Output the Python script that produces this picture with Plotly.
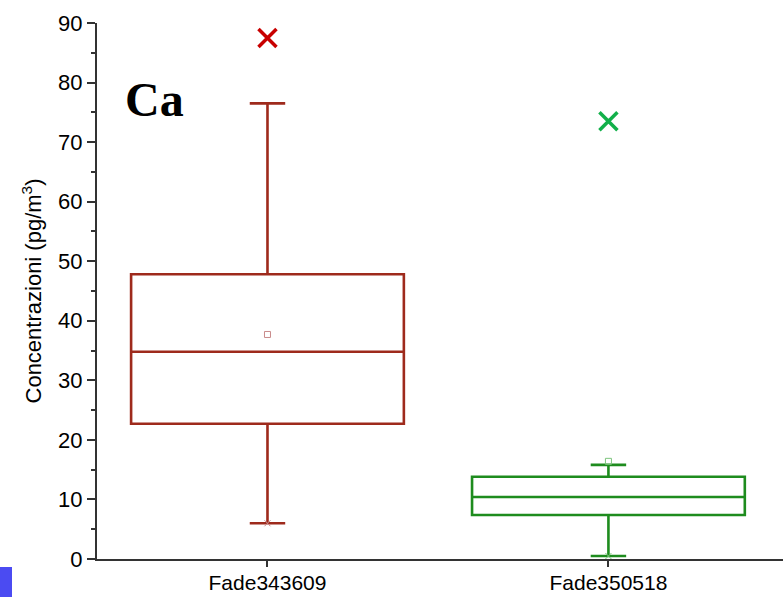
import plotly.graph_objects as go

categories = ["Fade343609", "Fade350518"]
q1 = [22.7, 7.4]
median = [34.8, 10.4]
q3 = [47.8, 13.8]
lower_whisker = [6.0, 0.5]
upper_whisker = [76.5, 15.8]
means = [37.7, 16.4]
maxima = [87.5, 73.5]
box_colors = ["#9E2A1C", "#1E8C1E"]
mean_colors = ["#C98A8A", "#7CC47C"]
max_colors = ["#C80000", "#12B04A"]
y_ticks = [0, 10, 20, 30, 40, 50, 60, 70, 80, 90]

W, H = 783, 597
ML, MR, MT, MB = 97, 0, 23, 38

fig = go.Figure()
for i, cat in enumerate(categories):
    fig.add_trace(go.Box(
        x=[cat], q1=[q1[i]], median=[median[i]], q3=[q3[i]],
        lowerfence=[lower_whisker[i]], upperfence=[upper_whisker[i]],
        width=0.8, whiskerwidth=0.13,
        line=dict(color=box_colors[i], width=2.6),
        fillcolor="rgba(255,255,255,0)",
        boxpoints=False, showlegend=False, hoverinfo="skip",
    ))
    fig.add_trace(go.Scatter(
        x=[cat], y=[means[i]], mode="markers",
        marker=dict(symbol="square-open", size=6, color=mean_colors[i], line=dict(width=1)),
        showlegend=False, hoverinfo="skip",
    ))
    fig.add_trace(go.Scatter(
        x=[cat], y=[maxima[i]], mode="markers",
        marker=dict(symbol="x-thin-open", size=18, color=max_colors[i], line=dict(width=3.5, color=max_colors[i])),
        showlegend=False, hoverinfo="skip",
    ))
    fig.add_trace(go.Scatter(
        x=[cat], y=[lower_whisker[i]], mode="markers",
        marker=dict(symbol="x-thin-open", size=6, color=mean_colors[i], line=dict(width=1, color=mean_colors[i])),
        showlegend=False, hoverinfo="skip",
    ))

pw = W - ML - MR
ph = H - MT - MB

fig.add_annotation(
    text="<b>Ca</b>", xref="paper", yref="y", x=(123 - ML) / pw, y=77.2,
    xanchor="left", yanchor="middle", showarrow=False,
    font=dict(family="Liberation Serif", size=48, color="black"),
)

# blue marker at lower-left corner
fig.add_shape(
    type="rect", xref="paper", yref="paper",
    x0=(0 - ML) / pw, x1=(12 - ML) / pw,
    y0=(H - MB - 597) / ph, y1=(H - MB - 567) / ph,
    fillcolor="#4B4BF2", line=dict(width=0), layer="above",
)

fig.update_layout(
    width=W, height=H,
    margin=dict(l=ML, r=MR, t=MT, b=MB, autoexpand=False),
    plot_bgcolor="white", paper_bgcolor="white",
    boxmode="overlay",
    font=dict(family="Liberation Sans, Arial, sans-serif", color="black"),
    xaxis=dict(
        type="category", range=[-0.5, 1.512], automargin=False,
        showline=True, linecolor="#333333", linewidth=2,
        ticks="outside", ticklen=6, tickwidth=1.5, tickcolor="#333333",
        ticklabelstandoff=-2,
        showgrid=False, zeroline=False,
        tickfont=dict(size=21), fixedrange=True,
    ),
    yaxis=dict(
        range=[0, 90], tickvals=y_ticks, automargin=False,
        showline=True, linecolor="#333333", linewidth=2,
        ticks="outside", ticklen=8, tickwidth=2, tickcolor="#333333",
        minor=dict(dtick=5, ticks="outside", ticklen=4, tickwidth=2, tickcolor="#333333"),
        showgrid=False, zeroline=False,
        tickfont=dict(size=22),
        title=dict(text="Concentrazioni (pg/m<sup>3</sup>)", font=dict(size=22), standoff=10),
    ),
)

fig.write_html("out.html")
